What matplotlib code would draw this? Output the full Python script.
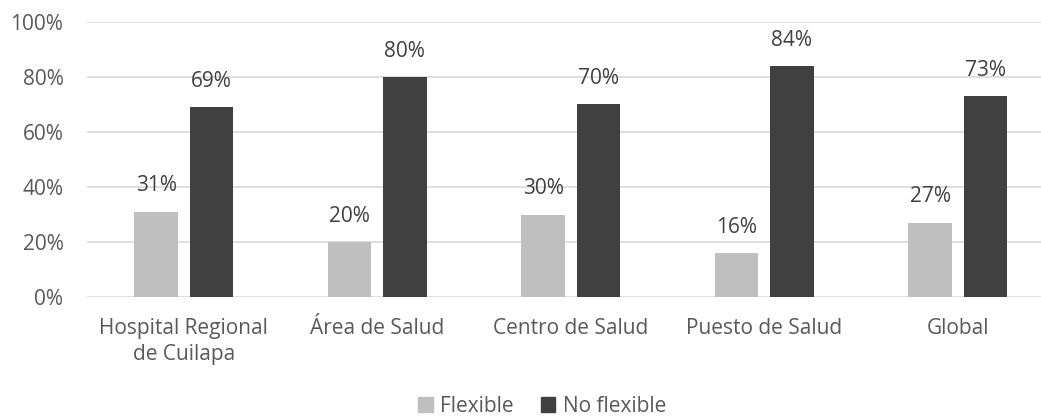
import numpy as np
import matplotlib.pyplot as plt
from matplotlib.patches import Patch

categories = ['Hospital Regional\nde Cuilapa', 'Área de Salud', 'Centro de Salud',
              'Puesto de Salud', 'Global']
flexible = [31, 20, 30, 16, 27]
no_flexible = [69, 80, 70, 84, 73]

light = '#BFBFBF'
dark = '#404040'
text_col = '#595959'

plt.rcParams['font.family'] = ['Open Sans', 'DejaVu Sans']
fs = 15

fig = plt.figure(figsize=(10.41, 4.19), dpi=100)
ax = fig.add_axes([87 / 1041, 122 / 419, 954 / 1041, 275 / 419])

locs = np.arange(len(categories))
bar_width = 0.225
offset = 0.143

flex_bars = ax.bar(locs - offset, flexible, width=bar_width, color=light, zorder=3)
noflex_bars = ax.bar(locs + offset, no_flexible, width=bar_width, color=dark, zorder=3)

# percentage labels above each bar
for bars in (flex_bars, noflex_bars):
    for b in bars:
        h = b.get_height()
        ax.annotate('{:.0f}%'.format(h), xy=(b.get_x() + b.get_width() / 2, h),
                    xytext=(0, 11), textcoords='offset points',
                    ha='center', va='bottom', fontsize=fs, color=dark)

ax.set_ylim(0, 100)
ax.set_xlim(-0.5, 4.43)
ax.set_yticks(np.arange(0, 101, 20))
ax.set_yticklabels(['{}%'.format(v) for v in range(0, 101, 20)])
ax.set_xticks(locs)
ax.set_xticklabels(categories, linespacing=1.35)

ax.yaxis.grid(True, color='#D9D9D9', linewidth=1.2, zorder=0)
for s in ax.spines.values():
    s.set_visible(False)
ax.tick_params(axis='both', length=0, labelsize=fs, colors=text_col)
ax.tick_params(axis='x', pad=15)
ax.tick_params(axis='y', pad=17)

handles = [Patch(color=light, label='Flexible'), Patch(color=dark, label='No flexible')]
leg = fig.legend(handles=handles, loc='center', bbox_to_anchor=(542 / 1041, 1 - 406 / 419),
                 ncol=2, frameon=False, fontsize=fs, handlelength=0.7, handleheight=0.7,
                 handletextpad=0.35, columnspacing=1.3, borderpad=0.1)
for t in leg.get_texts():
    t.set_color(text_col)

fig.savefig('out.png', dpi=100)
